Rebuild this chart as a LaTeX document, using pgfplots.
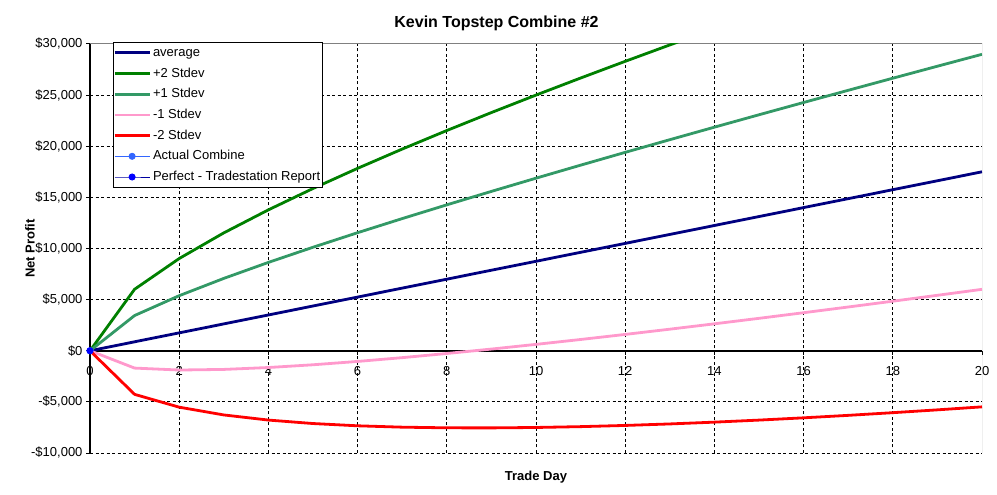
\documentclass[border=0pt]{standalone}
\usepackage{fontspec}
\setmainfont{Liberation Sans}
\usepackage{pgfplots}
\pgfplotsset{compat=1.18}
\definecolor{avgc}{RGB}{0,0,128}
\definecolor{ptwo}{RGB}{0,128,0}
\definecolor{pone}{RGB}{51,153,102}
\definecolor{mone}{RGB}{255,153,204}
\definecolor{mtwo}{RGB}{255,0,0}
\definecolor{actc}{RGB}{51,102,255}
\definecolor{perfc}{RGB}{0,0,160}
\definecolor{bordc}{RGB}{128,128,128}
\begin{document}
\begin{tikzpicture}
\path[use as bounding box] (0,0) rectangle (997bp,495bp);
\begin{axis}[
  at={(90bp,42bp)}, anchor=south west,
  scale only axis, width=892bp, height=409bp,
  xmin=0, xmax=20, ymin=-10000, ymax=30000,
  axis x line*=middle, axis y line*=left,
  hide obscured x ticks=false,
  x axis line style={black, line width=2bp},
  y axis line style={black, line width=1.3bp},
  tick align=outside, major tick length=4bp,
  tick style={black, line width=1bp},
  scaled ticks=false,
  xtick={0,2,...,18}, extra x ticks={20},
  ytick={-10000,-5000,...,25000}, extra y ticks={30000},
  yticklabels={-\$10{,}000,-\$5{,}000,\$0,\$5{,}000,\$10{,}000,\$15{,}000,\$20{,}000,\$25{,}000},
  extra y tick labels={\$30{,}000},
  extra tick style={grid=none},
  grid=major,
  major grid style={black, line width=0.9bp, dash pattern=on 3bp off 2.5bp},
  /pgf/number format/assume math mode=true,
  ticklabel style={font=\fontsize{13bp}{15bp}\selectfont},
  xticklabel style={yshift=-8bp},
  xlabel={Trade Day}, ylabel={Net Profit},
  label style={font=\bfseries\fontsize{13bp}{15bp}\selectfont},
  xlabel style={at={(axis description cs:0.5,0)}, anchor=base, yshift=-27bp},
  ylabel style={at={(axis description cs:-0.0673,0.5)}, anchor=center},
  legend style={at={(axis description cs:0.0258,1.005)}, anchor=north west,
    draw=black, fill=white, font=\fontsize{13bp}{15bp}\selectfont,
    inner xsep=0pt, inner ysep=0.3bp, row sep=0pt,
    nodes={inner xsep=2bp, inner ysep=0pt, text height=14bp, text depth=6.7bp}},
  legend cell align=left,
  legend image code/.code={\draw[mark repeat=2,mark phase=2,#1] plot coordinates {(0bp,0bp) (17.5bp,0bp) (35bp,0bp)};},
]
\draw[bordc, line width=1bp] (rel axis cs:0,0) -- (rel axis cs:1,0) -- (rel axis cs:1,1) -- (rel axis cs:0,1);
\addplot[avgc, line width=2.8bp] coordinates {
(0,0) (1,875) (2,1750) (3,2625) (4,3500) (5,4375) (6,5250) (7,6125) (8,7000) (9,7875) (10,8750)
(11,9625) (12,10500) (13,11375) (14,12250) (15,13125) (16,14000) (17,14875) (18,15750) (19,16625) (20,17500)};
\addlegendentry{average}
\addplot[ptwo, line width=2.8bp] coordinates {
(0,0) (1,6015) (2,9019) (3,11528) (4,13780) (5,15868) (6,17840) (7,19724) (8,21538) (9,23295) (10,25004)
(11,26672) (12,28305) (13,29908) (14,31482) (15,33032)};
\addlegendentry{+2 Stdev}
\addplot[pone, line width=2.8bp] coordinates {
(0,0) (1,3445) (2,5385) (3,7076) (4,8640) (5,10122) (6,11545) (7,12925) (8,14269) (9,15585) (10,16877)
(11,18149) (12,19403) (13,20641) (14,21866) (15,23079) (16,24280) (17,25471) (18,26654) (19,27827) (20,28993)};
\addlegendentry{+1 Stdev}
\addplot[mone, line width=2.8bp] coordinates {
(0,0) (1,-1695) (2,-1885) (3,-1826) (4,-1640) (5,-1372) (6,-1045) (7,-675) (8,-269) (9,165) (10,623)
(11,1101) (12,1597) (13,2109) (14,2634) (15,3171) (16,3720) (17,4279) (18,4846) (19,5423) (20,6007)};
\addlegendentry{-1 Stdev}
\addplot[mtwo, line width=2.8bp] coordinates {
(0,0) (1,-4265) (2,-5519) (3,-6278) (4,-6780) (5,-7118) (6,-7340) (7,-7474) (8,-7538) (9,-7545) (10,-7504)
(11,-7422) (12,-7305) (13,-7158) (14,-6982) (15,-6782) (16,-6560) (17,-6318) (18,-6057) (19,-5780) (20,-5487)};
\addlegendentry{-2 Stdev}
\addplot[actc, line width=1bp, mark=*, mark size=3bp, mark options={fill=actc, draw=actc}] coordinates {(0,0)};
\addlegendentry{Actual Combine}
\addplot[perfc, line width=1bp, mark=*, mark size=3bp, mark options={fill=blue, draw=blue}] coordinates {(0,0)};
\addlegendentry{Perfect - Tradestation Report}
\end{axis}
\node[anchor=base, font=\bfseries\fontsize{16bp}{18bp}\selectfont] at (496.5bp,467bp) {Kevin Topstep Combine \#2};
\end{tikzpicture}
\end{document}
